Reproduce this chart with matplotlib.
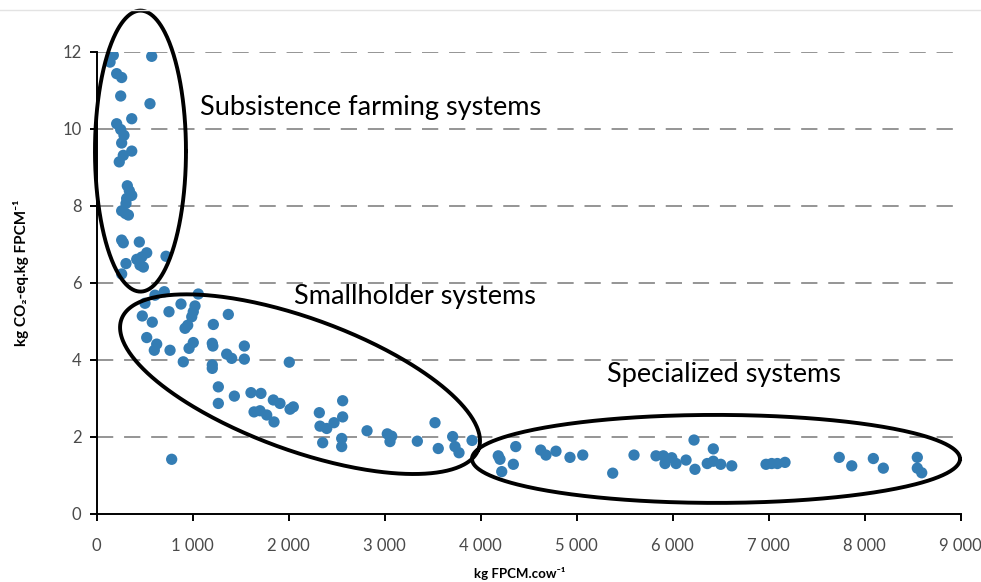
import numpy as np
import matplotlib
matplotlib.use("Agg")
import matplotlib.pyplot as plt
from matplotlib.ticker import FuncFormatter

plt.rcParams['font.family'] = ['Lato', 'DejaVu Sans']

# Milk yield (kg FPCM per cow) and emission intensity (kg CO2-eq per kg FPCM)
subsistence_yield = [173, 139, 573, 208, 260, 250, 555, 365, 208, 250, 284, 260, 365, 277,
                     235, 319, 340, 365, 312, 305, 260, 300, 330, 260, 277, 444, 521, 469,
                     417, 451, 486, 305, 722, 260]
subsistence_ei = [11.91, 11.73, 11.88, 11.43, 11.33, 10.85, 10.65, 10.26, 10.13, 9.98, 9.83,
                  9.63, 9.42, 9.31, 9.14, 8.52, 8.39, 8.27, 8.19, 8.06, 7.87, 7.80, 7.76,
                  7.11, 7.04, 7.06, 6.78, 6.67, 6.61, 6.46, 6.41, 6.50, 6.69, 6.23]

smallholder_yield = [607, 704, 1058, 503, 878, 753, 1024, 1006, 990, 1371, 475, 579, 1215,
                     948, 920, 521, 625, 600, 764, 1006, 962, 1204, 1210, 1538, 902, 1354,
                     1406, 1538, 1204, 1204, 1267, 1434, 1607, 1711, 1267, 2006, 1639, 1701,
                     1771, 1847, 1840, 1909, 2014, 2048, 2319, 2326, 2396, 2354, 2472, 2562,
                     2562, 2552, 2552, 2816, 3027, 3073, 3055, 3340, 3524, 3558, 3708, 3732,
                     3774, 3910, 781]
smallholder_ei = [5.68, 5.77, 5.71, 5.47, 5.45, 5.25, 5.40, 5.25, 5.12, 5.18, 5.14, 4.98,
                  4.92, 4.90, 4.82, 4.58, 4.41, 4.25, 4.25, 4.45, 4.30, 4.43, 4.36, 4.36,
                  3.95, 4.15, 4.04, 4.02, 3.87, 3.78, 3.30, 3.06, 3.15, 3.13, 2.87, 3.94,
                  2.65, 2.68, 2.57, 2.39, 2.96, 2.87, 2.72, 2.78, 2.63, 2.28, 2.22, 1.85,
                  2.37, 2.52, 2.94, 1.96, 1.75, 2.16, 2.08, 2.02, 1.88, 1.89, 2.37, 1.70,
                  2.01, 1.75, 1.59, 1.91, 1.42]

specialized_yield = [4183, 4201, 4219, 4340, 4365, 4625, 4680, 4784, 4930, 5063, 5375, 5597,
                     5826, 5902, 5920, 5990, 6035, 6139, 6222, 6232, 6360, 6423, 6423, 6500,
                     6615, 6972, 7031, 7090, 7170, 7735, 7865, 8090, 8194, 8548, 8548, 8594]
specialized_ei = [1.51, 1.42, 1.10, 1.29, 1.75, 1.66, 1.53, 1.63, 1.47, 1.53, 1.06, 1.53,
                  1.51, 1.51, 1.31, 1.46, 1.31, 1.40, 1.92, 1.16, 1.31, 1.69, 1.37, 1.29,
                  1.25, 1.29, 1.31, 1.31, 1.34, 1.47, 1.25, 1.44, 1.19, 1.47, 1.19, 1.07]

group_labels = ["Subsistence farming systems", "Smallholder systems", "Specialized systems"]
x_ticks = [0, 1000, 2000, 3000, 4000, 5000, 6000, 7000, 8000, 9000]
y_ticks = [0, 2, 4, 6, 8, 10, 12]

W, H = 981, 582
fig = plt.figure(figsize=(W / 100, H / 100), dpi=100)
ax = fig.add_axes([96.7 / W, 1 - 514 / H, (960.7 - 96.7) / W, (514 - 51.7) / H])
ax.set_xlim(0, 9000)
ax.set_ylim(0, 12)

# dashed horizontal gridlines
for yv in y_ticks[1:]:
    ax.axhline(yv, color="#8c8c8c", lw=1.3, dashes=(9, 6), zorder=1)

dot = "#347db4"
for xs, ys in [(subsistence_yield, subsistence_ei),
               (smallholder_yield, smallholder_ei),
               (specialized_yield, specialized_ei)]:
    ax.scatter(xs, ys, s=66, color=dot, edgecolors="none", zorder=3)

for side in ("top", "right"):
    ax.spines[side].set_visible(False)
for side in ("left", "bottom"):
    ax.spines[side].set_linewidth(1.4)
    ax.spines[side].set_color("black")

ax.set_xticks(x_ticks)
ax.set_yticks(y_ticks)
ax.xaxis.set_major_formatter(FuncFormatter(lambda v, p: f"{int(v):,}".replace(",", " ")))
ax.tick_params(axis="both", direction="out", length=5, width=1.4, colors="black",
               labelsize=12, labelcolor="#4a4a4a")
ax.tick_params(axis="x", pad=12)
ax.tick_params(axis="y", pad=6)

ax.set_xlabel("kg FPCM.cow\u207b\u00b9", fontsize=9.5, fontweight="bold", va="center")
ax.set_ylabel("kg CO\u2082-eq.kg FPCM\u207b\u00b9", fontsize=11, fontweight="bold", va="center")
ax.xaxis.set_label_coords(0.49, -0.128)
ax.yaxis.set_label_coords(-0.088, 0.521)

# outline ellipses around each farming-system group, drawn in screen space
fig.canvas.draw()
def ring(cx, cy, a, b, angle_deg):
    c = ax.transData.transform((cx, cy))
    t = np.linspace(0, 2 * np.pi, 400)
    th = np.deg2rad(angle_deg)
    px = c[0] + a * np.cos(t) * np.cos(th) - b * np.sin(t) * np.sin(th)
    py = c[1] + a * np.cos(t) * np.sin(th) + b * np.sin(t) * np.cos(th)
    d = ax.transData.inverted().transform(np.column_stack([px, py]))
    ax.plot(d[:, 0], d[:, 1], color="black", lw=2.8, clip_on=False, zorder=4)

ring(456, 9.42, 45.5, 140.5, 0)
ring(2118, 3.37, 190, 66, -20)
ring(6451, 1.43, 244, 44, 0)

ax.text(1080, 10.55, group_labels[0], fontsize=19.5, color="black", va="center", ha="left")
ax.text(2050, 5.65, group_labels[1], fontsize=19.5, color="black", va="center", ha="left")
ax.text(5320, 3.62, group_labels[2], fontsize=19.5, color="black", va="center", ha="left")

fig.add_artist(plt.Line2D([0, 1], [1 - 10 / H, 1 - 10 / H], color="#e3e3e3", lw=1,
                          transform=fig.transFigure))

fig.savefig("out.png", dpi=100, facecolor="white")
